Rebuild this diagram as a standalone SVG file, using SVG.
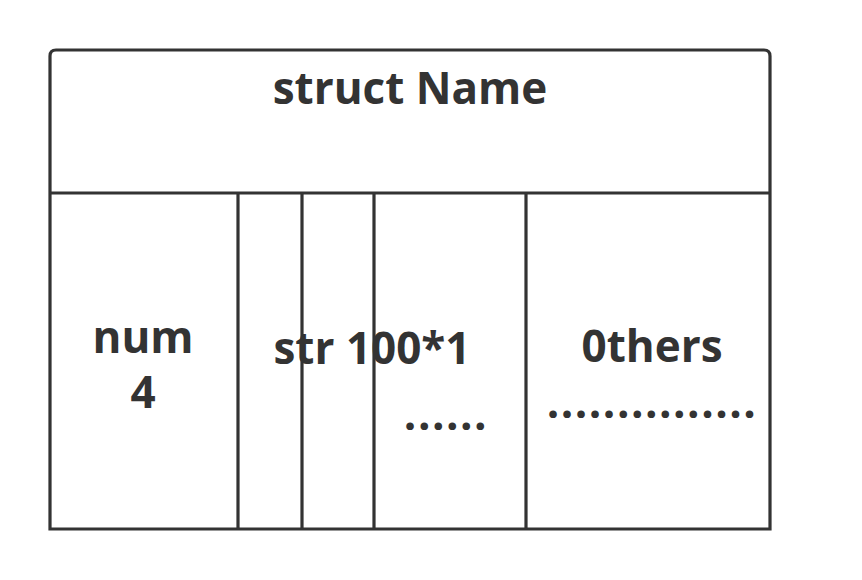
<svg xmlns="http://www.w3.org/2000/svg" width="862" height="580" viewBox="0 0 862 580">
<style>
.ln{fill:none;stroke:#333;stroke-width:3.2}
.t{font-family:"Open Sans","Noto Sans","Liberation Sans",sans-serif;font-weight:bold;fill:#333;text-anchor:middle;font-size:44px}
.d{letter-spacing:1.5px}
</style>
<rect width="862" height="580" fill="#fff"/>
<g id="struct">
<path class="ln" d="M50,529 V56 Q50,50 56,50 H764 Q770,50 770,56 V529 Z"/>
<line class="ln" x1="50" y1="193" x2="770" y2="193"/>
<text class="t" x="410" y="104">struct Name</text>
</g>
<g id="num">
<line class="ln" x1="238" y1="193" x2="238" y2="529"/>
<text class="t" x="143" y="353">num</text>
<text class="t" x="143" y="408">4</text>
</g>
<g id="str">
<line class="ln" x1="302" y1="193" x2="302" y2="529"/>
<line class="ln" x1="374" y1="193" x2="374" y2="529"/>
<line class="ln" x1="526" y1="193" x2="526" y2="529"/>
<text class="t" x="372" y="364">str 100*1</text>
<text class="t d" x="446" y="430">......</text>
</g>
<g id="others">
<text class="t" x="652" y="362">0thers</text>
<text class="t d" x="652" y="418">...............</text>
</g>
</svg>
